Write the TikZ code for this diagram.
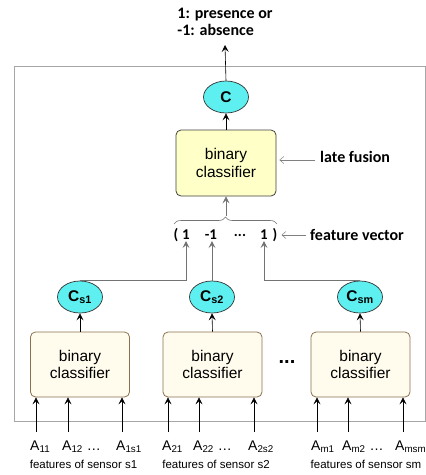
\documentclass[tikz,border=0pt]{standalone}
\usepackage{fontspec}
\setmainfont{Liberation Sans}
\newfontfamily\notefont{Carlito}
\usetikzlibrary{arrows.meta,decorations.pathreplacing,shapes.geometric}

\definecolor{clscyan}{RGB}{94,240,240}
\definecolor{fusefill}{RGB}{255,255,200}
\definecolor{basefill}{RGB}{255,252,238}
\definecolor{basedraw}{RGB}{140,112,80}

\tikzset{
  fusebox/.style={draw=black!75,fill=fusefill,rounded corners=5pt,line width=0.8pt,
    minimum width=100,minimum height=66,align=center,font=\fontsize{15.5}{17.5}\selectfont},
  basebox/.style={draw=basedraw,fill=basefill,rounded corners=5pt,line width=0.8pt,
    minimum width=99,minimum height=65,align=center,font=\fontsize{15.5}{17.5}\selectfont},
  outcls/.style={ellipse,draw=black!80,fill=clscyan,line width=0.7pt,inner sep=0pt,
    minimum width=45,minimum height=32,font=\fontsize{15.5}{17}\selectfont\bfseries},
  conn/.style={line width=0.6pt,-{Stealth[length=7pt,width=7pt,inset=3pt]}},
  vconn/.style={conn,draw=black!55},
  note/.style={draw=black!50,line width=0.5pt,-{Straight Barb[length=4pt,width=7pt]}},
  vec/.style={font=\notefont\fontsize{15}{17}\selectfont\bfseries,inner sep=1pt},
  bold/.style={font=\notefont\fontsize{16}{19}\selectfont\bfseries},
  attr/.style={font=\fontsize{14}{16}\selectfont,anchor=west,inner sep=0pt},
  sensor/.style={font=\fontsize{11.5}{13}\selectfont,inner sep=0pt}
}

\begin{document}
\begin{tikzpicture}[x=1pt,y=-1pt]
\useasboundingbox (0,0) rectangle (426,475);
% frame
\draw[black!35,line width=0.8pt] (14,66) rectangle (425,421);

% late fusion part
\node[bold,align=left,inner sep=0pt] (out) at (225,22) {1: presence or\\[-2pt]-1: absence};
\node[outcls] (c) at (226,97) {C};
\node[fusebox] (fuse) at (226,163) {binary\\classifier};
\draw[conn] (c.north) -- (out.south |- 0,45);
\draw[conn] (fuse.north) -- (c.south);
\node[bold,anchor=west,inner sep=0pt] (latefusion) at (320,157) {late fusion};
\draw[note] (latefusion.west) ++(-5,3) -- ([xshift=3pt]fuse.east |- 0,160);

% feature vector
\node[vec] (lp) at (176,235) {(};
\node[vec] (v1) at (186,235) {1};
\node[vec] (v2) at (211,235) {-1};
\node[vec] (vd) at (240,235) {...};
\node[vec] (vm) at (264,235) {1};
\node[vec] (rp) at (275,235) {)};
\node[bold,anchor=west,inner sep=0pt] (featvec) at (310,235) {feature vector};
\draw[note] ([xshift=-4pt]featvec.west) -- ([xshift=3pt]rp.east);
\draw[black!55,line width=0.6pt,decorate,decoration={brace,amplitude=7pt}] (174,224) -- (277,224);
\coordinate (btip) at (226,216);
\draw[vconn] (btip) -- (fuse.south);

% sensor classifiers
\node[outcls] (cs1) at (80,297) {C\textsubscript{s1}};
\node[outcls] (cs2) at (212,297) {C\textsubscript{s2}};
\node[outcls] (csm) at (360,297) {C\textsubscript{sm}};
\draw[vconn] (cs1.north) -| (v1.south);
\draw[vconn] (cs2.north) -- (v2.south -| cs2.north);
\draw[vconn] (csm.north) -| (vm.south);

\node[basebox] (b1) at (80,364.5) {binary\\classifier};
\node[basebox] (b2) at (212.5,364.5) {binary\\classifier};
\node[basebox] (bm) at (360.5,364.5) {binary\\classifier};
\node[font=\fontsize{20}{20}\selectfont\bfseries] (dots) at (287,362) {...};
\draw[conn] (b1.north) -- (cs1.south);
\draw[conn] (b2.north) -- (cs2.south);
\draw[conn] (bm.north) -- (csm.south);

% features
\coordinate (i11) at (36,432);
\coordinate (i12) at (68,432);
\coordinate (i1s) at (122,432);
\coordinate (i21) at (168,432);
\coordinate (i22) at (199,432);
\coordinate (i2s) at (254,432);
\coordinate (im1) at (317,432);
\coordinate (im2) at (348,432);
\coordinate (ims) at (403,432);
\draw[conn] (i11) -- (i11 |- b1.south);
\draw[conn] (i12) -- (i12 |- b1.south);
\draw[conn] (i1s) -- (i1s |- b1.south);
\draw[conn] (i21) -- (i21 |- b2.south);
\draw[conn] (i22) -- (i22 |- b2.south);
\draw[conn] (i2s) -- (i2s |- b2.south);
\draw[conn] (im1) -- (im1 |- bm.south);
\draw[conn] (im2) -- (im2 |- bm.south);
\draw[conn] (ims) -- (ims |- bm.south);
\node[attr] (a11) at (30,447) {A\textsubscript{11}};
\node[attr] (a12) at (62,447) {A\textsubscript{12} …};
\node[attr] (a1s) at (116,447) {A\textsubscript{1s1}};
\node[attr] (a21) at (162,447) {A\textsubscript{21}};
\node[attr] (a22) at (193,447) {A\textsubscript{22} …};
\node[attr] (a2s) at (248,447) {A\textsubscript{2s2}};
\node[attr] (am1) at (311,447) {A\textsubscript{m1}};
\node[attr] (am2) at (342,447) {A\textsubscript{m2} …};
\node[attr] (ams) at (395,447) {A\textsubscript{msm}};
\node[sensor] (s1) at (83.5,464) {features of sensor s1};
\node[sensor] (s2) at (216,464) {features of sensor s2};
\node[sensor] (sm) at (366,464) {features of sensor sm};
\end{tikzpicture}
\end{document}
